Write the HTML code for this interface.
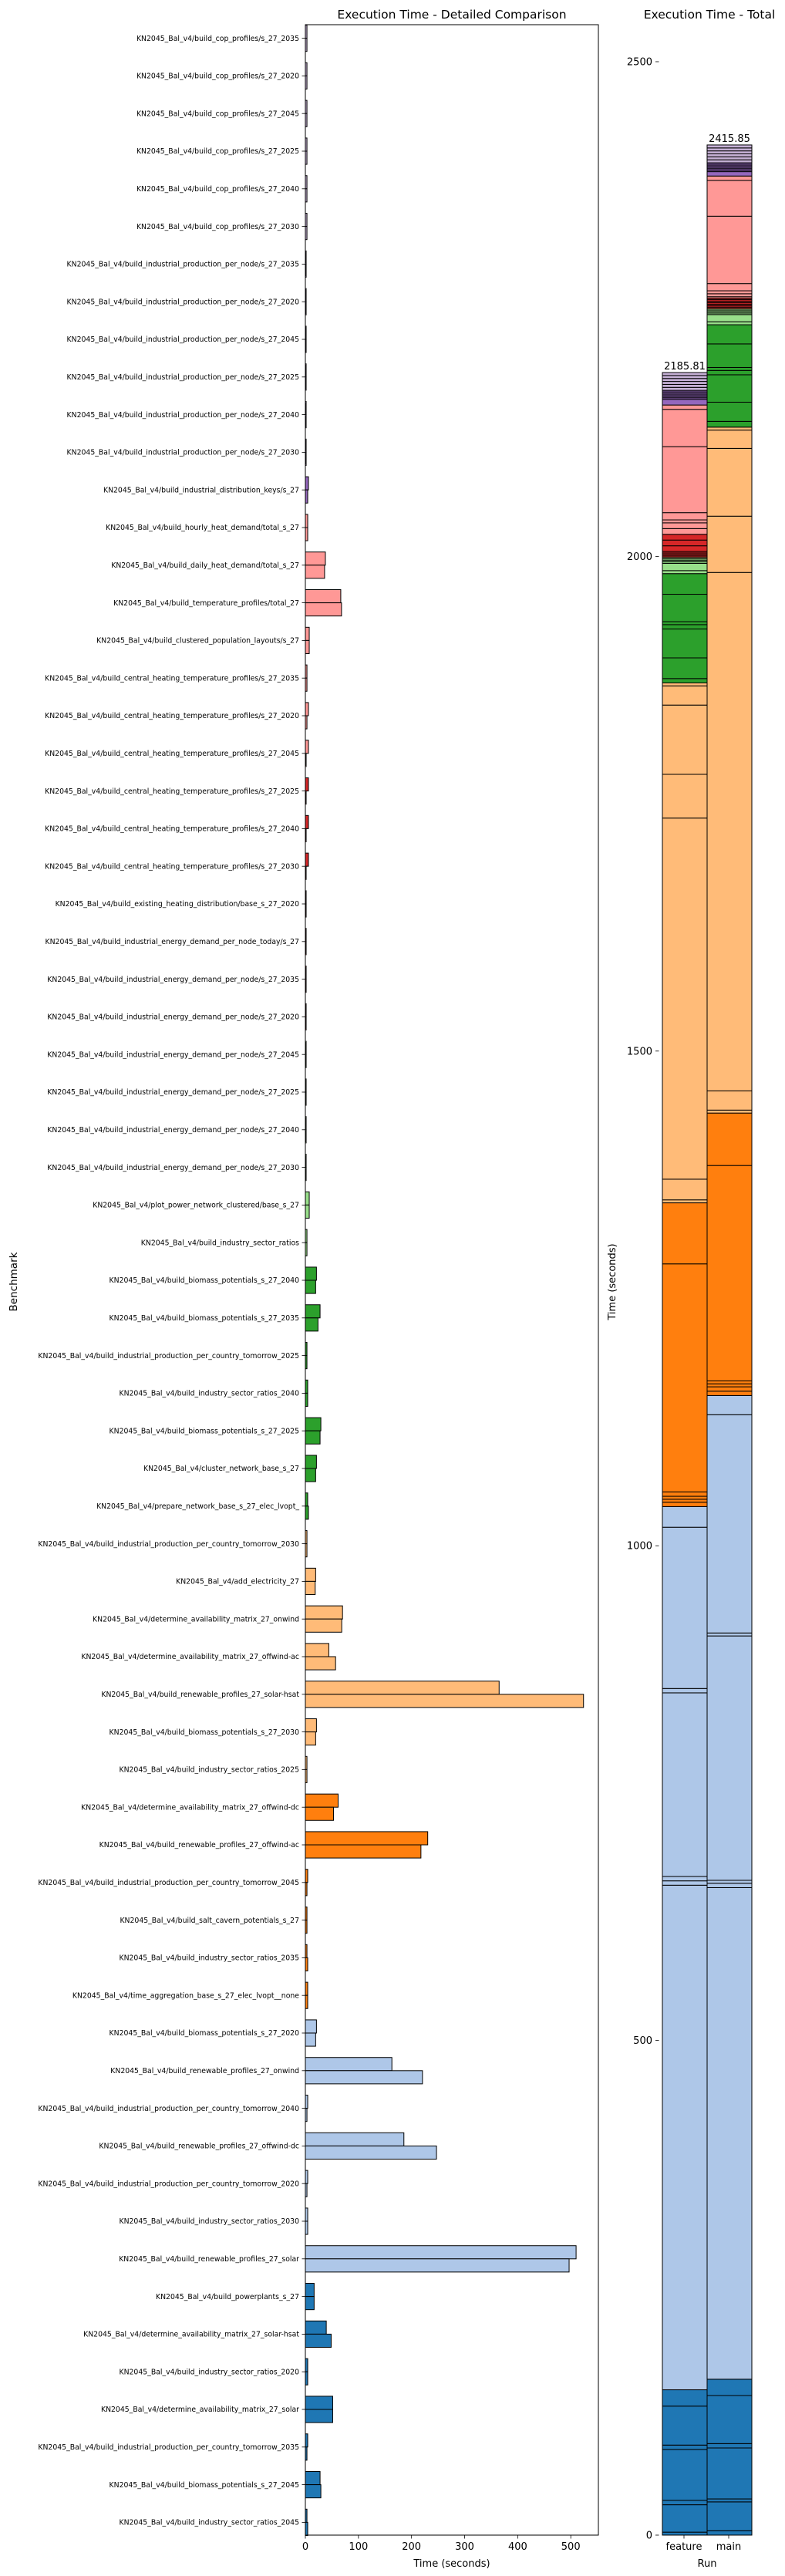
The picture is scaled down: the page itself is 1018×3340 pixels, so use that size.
<!DOCTYPE html>
<html><head><meta charset="utf-8">
<style>
html,body{margin:0;padding:0;background:#fff;}
svg{display:block;font-family:"DejaVu Sans","Liberation Sans",sans-serif;}
</style></head>
<body>
<svg id="chart" width="1018" height="3340" viewBox="0 0 1018 3340" xmlns="http://www.w3.org/2000/svg">
<rect width="1018" height="3340" fill="#fff"/>
<text x="586" y="24" font-size="15.5" text-anchor="middle">Execution Time - Detailed Comparison</text>
<text x="920" y="24" font-size="15.5" text-anchor="middle">Execution Time - Total</text>
<g id="left"></g>
<g id="right"></g>
<text transform="translate(22,1662) rotate(-90)" font-size="13.5" text-anchor="middle">Benchmark</text>
<text x="586" y="3328" font-size="13" text-anchor="middle">Time (seconds)</text>
<text transform="translate(798,1662) rotate(-90)" font-size="13" text-anchor="middle">Time (seconds)</text>
<text x="917" y="3328" font-size="13" text-anchor="middle">Run</text>
</svg>
<script>
const benchmarks = [
"build_cop_profiles/s_27_2035","build_cop_profiles/s_27_2020","build_cop_profiles/s_27_2045","build_cop_profiles/s_27_2025","build_cop_profiles/s_27_2040","build_cop_profiles/s_27_2030",
"build_industrial_production_per_node/s_27_2035","build_industrial_production_per_node/s_27_2020","build_industrial_production_per_node/s_27_2045","build_industrial_production_per_node/s_27_2025","build_industrial_production_per_node/s_27_2040","build_industrial_production_per_node/s_27_2030",
"build_industrial_distribution_keys/s_27","build_hourly_heat_demand/total_s_27","build_daily_heat_demand/total_s_27","build_temperature_profiles/total_27","build_clustered_population_layouts/s_27",
"build_central_heating_temperature_profiles/s_27_2035","build_central_heating_temperature_profiles/s_27_2020","build_central_heating_temperature_profiles/s_27_2045","build_central_heating_temperature_profiles/s_27_2025","build_central_heating_temperature_profiles/s_27_2040","build_central_heating_temperature_profiles/s_27_2030",
"build_existing_heating_distribution/base_s_27_2020","build_industrial_energy_demand_per_node_today/s_27",
"build_industrial_energy_demand_per_node/s_27_2035","build_industrial_energy_demand_per_node/s_27_2020","build_industrial_energy_demand_per_node/s_27_2045","build_industrial_energy_demand_per_node/s_27_2025","build_industrial_energy_demand_per_node/s_27_2040","build_industrial_energy_demand_per_node/s_27_2030",
"plot_power_network_clustered/base_s_27","build_industry_sector_ratios","build_biomass_potentials_s_27_2040","build_biomass_potentials_s_27_2035","build_industrial_production_per_country_tomorrow_2025","build_industry_sector_ratios_2040","build_biomass_potentials_s_27_2025","cluster_network_base_s_27","prepare_network_base_s_27_elec_lvopt_","build_industrial_production_per_country_tomorrow_2030",
"add_electricity_27","determine_availability_matrix_27_onwind","determine_availability_matrix_27_offwind-ac","build_renewable_profiles_27_solar-hsat","build_biomass_potentials_s_27_2030","build_industry_sector_ratios_2025","determine_availability_matrix_27_offwind-dc","build_renewable_profiles_27_offwind-ac","build_industrial_production_per_country_tomorrow_2045","build_salt_cavern_potentials_s_27","build_industry_sector_ratios_2035","time_aggregation_base_s_27_elec_lvopt__none",
"build_biomass_potentials_s_27_2020","build_renewable_profiles_27_onwind","build_industrial_production_per_country_tomorrow_2040","build_renewable_profiles_27_offwind-dc","build_industrial_production_per_country_tomorrow_2020","build_industry_sector_ratios_2030","build_renewable_profiles_27_solar",
"build_powerplants_s_27","determine_availability_matrix_27_solar-hsat","build_industry_sector_ratios_2020","determine_availability_matrix_27_solar","build_industrial_production_per_country_tomorrow_2035","build_biomass_potentials_s_27_2045","build_industry_sector_ratios_2045"
];
const featureTimes = [
3,3,3,3,3,3, 1.5,1.5,1.5,1.5,1.5,1.5,
5.8,4.4,37.7,66.7,7.3, 3,5.8,5.8,5.8,5.8,5.8,
1.5,1.5,1.5,1.5,1.5,1.5,1.5,1.5,
7.3,3,20.9,27.7,3,4.4,29.2,20.9,4.4,3,
19.4,70,44.2,365,20.9,3,61.7,230.5,4.4,3,3,4.4,
20.9,163,4.4,185.6,4.4,4.4,510,
16.5,39.4,4.4,51.5,4.4,27.7,3.01
];
const mainTimes = [
3,3,3,3,3,3, 1.5,1.5,1.5,1.5,1.5,1.5,
4.4,4.4,36.2,68.1,7.3, 3,3,1.5,1.5,1.5,1.5,
1.5,1.5,1.5,1.5,1.5,1.5,1.5,1.5,
7.3,3,19.4,23.8,3,4.4,27.7,19.4,5.8,3,
18.5,68.5,56.9,524,19.4,3,53,217.7,3,3,4.4,4.4,
19.4,220.6,3,247,3,4.4,496.85,
16.5,48.6,4.4,51.5,3,29.2,4.4
];
const runs = ["feature","main"];
const xTicks = [0,100,200,300,400,500];
const yTotalTicks = [0,500,1000,1500,2000,2500];
// colour group sizes from top row downwards
const groupSizes = [6,7,7,7,6,7,7,6,7,7];
const groupColors = ["#c5b0d5","#9467bd","#ff9896","#d62728","#98df8a","#2ca02c","#ffbb78","#ff7f0e","#aec7e8","#1f77b4"];

const NS="http://www.w3.org/2000/svg";
function mk(tag,attrs,parent){const e=document.createElementNS(NS,tag);for(const k in attrs)e.setAttribute(k,attrs[k]);parent.appendChild(e);return e;}
const rowColor=[];groupSizes.forEach((n,g)=>{for(let i=0;i<n;i++)rowColor.push(groupColors[g]);});

// left axes
const L={x0:396,x1:776,y0:32,y1:3287,xmax:552};
const rowPitch=48.8, row0=49.6;
const xs=v=>L.x0+v*(L.x1-L.x0)/L.xmax;
const ys=i=>row0+i*rowPitch;
const barH=rowPitch*0.35;
const left=document.getElementById('left');
benchmarks.forEach((b,i)=>{
  const cy=ys(i);
  const r1=mk('rect',{x:xs(0),y:cy-barH,width:xs(featureTimes[i])-xs(0),height:barH,fill:rowColor[i],stroke:'#000','stroke-width':1},left);
  
  
  const r2=mk('rect',{x:xs(0),y:cy,width:xs(mainTimes[i])-xs(0),height:barH,fill:rowColor[i],stroke:'#000','stroke-width':1},left);
  
  
  mk('line',{x1:L.x0-4.5,x2:L.x0,y1:cy,y2:cy,stroke:'#000','stroke-width':0.8},left);
  const t=mk('text',{x:L.x0-8,y:cy+3.2,'font-size':9.3,'text-anchor':'end'},left);
  t.textContent="KN2045_Bal_v4/"+b;
  
  
});
const frame=mk('rect',{x:L.x0,y:L.y0,width:L.x1-L.x0,height:L.y1-L.y0,fill:'none',stroke:'#000','stroke-width':1},left);


xTicks.forEach(v=>{
  mk('line',{x1:xs(v),x2:xs(v),y1:L.y1,y2:L.y1+4.5,stroke:'#000','stroke-width':0.8},left);
  const t=mk('text',{x:xs(v),y:L.y1+19,'font-size':13,'text-anchor':'middle'},left);
  t.textContent=v;
  
  
});

// right stacked axes
const R={y0:3287,scale:(3287-80)/2500,barX:[859,917],barW:58};
const yr=v=>R.y0-v*R.scale;
const right=document.getElementById('right');
[featureTimes,mainTimes].forEach((vals,k)=>{
  let cum=0;
  for(let i=vals.length-1;i>=0;i--){
    const v=vals[i];
    const r=mk('rect',{x:R.barX[k],y:yr(cum+v),width:R.barW,height:yr(cum)-yr(cum+v),fill:rowColor[i],stroke:'#000','stroke-width':1},right);
    
    
    cum+=v;
  }
  const t=mk('text',{x:R.barX[k]+R.barW/2,y:yr(cum)-4,'font-size':13,'text-anchor':'middle'},right);
  t.textContent=cum.toFixed(2);
  
  
  const cx=R.barX[k]+R.barW/2-1;
  mk('line',{x1:cx,x2:cx,y1:R.y0,y2:R.y0+4.5,stroke:'#000','stroke-width':0.8},right);
  const lt=mk('text',{x:cx,y:R.y0+19,'font-size':13,'text-anchor':'middle'},right);
  lt.textContent=runs[k];
  
  
});
yTotalTicks.forEach(v=>{
  mk('line',{x1:850,x2:854.5,y1:yr(v),y2:yr(v),stroke:'#000','stroke-width':0.8},right);
  const t=mk('text',{x:846,y:yr(v)+4.5,'font-size':13,'text-anchor':'end'},right);
  t.textContent=v;
  
  
});
</script>
</body></html>
